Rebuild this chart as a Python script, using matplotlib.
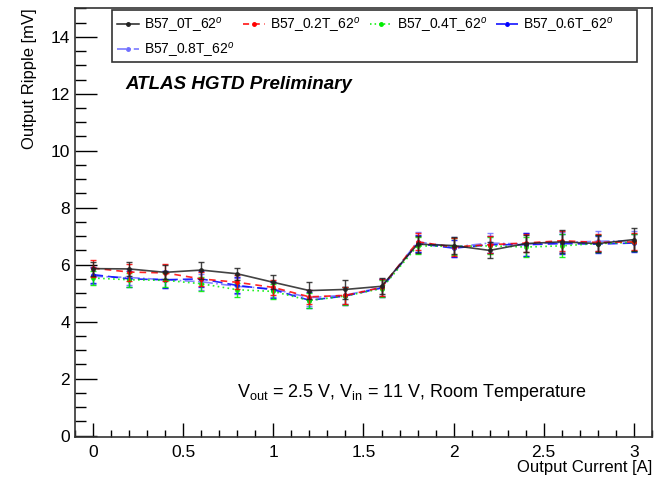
import matplotlib
matplotlib.use("Agg")
import matplotlib.pyplot as plt
from matplotlib.ticker import MultipleLocator
from matplotlib.lines import Line2D
from matplotlib.patches import Rectangle
import numpy as np

plt.rcParams['font.family'] = ['Liberation Sans', 'DejaVu Sans']
plt.rcParams['mathtext.fontset'] = 'custom'
plt.rcParams['mathtext.rm'] = 'Liberation Sans'
plt.rcParams['mathtext.it'] = 'Liberation Sans:italic'

current = [0.0, 0.2, 0.4, 0.6, 0.8, 1.0, 1.2, 1.4, 1.6, 1.8, 2.0, 2.2, 2.4, 2.6, 2.8, 3.0]

labels = ["B57_0T_62$^{o}$", "B57_0.2T_62$^{o}$", "B57_0.4T_62$^{o}$",
          "B57_0.6T_62$^{o}$", "B57_0.8T_62$^{o}$"]

ripple_0T = [5.86, 5.85, 5.73, 5.81, 5.68, 5.38, 5.09, 5.13, 5.24, 6.72, 6.67, 6.50, 6.74, 6.80, 6.74, 6.88]
ripple_02T = [5.88, 5.74, 5.71, 5.50, 5.38, 5.20, 4.87, 4.92, 5.20, 6.80, 6.62, 6.70, 6.76, 6.84, 6.78, 6.80]
ripple_04T = [5.53, 5.47, 5.45, 5.33, 5.12, 5.06, 4.74, 4.90, 5.16, 6.66, 6.64, 6.66, 6.62, 6.66, 6.74, 6.78]
ripple_06T = [5.65, 5.50, 5.47, 5.50, 5.27, 5.12, 4.75, 4.90, 5.18, 6.74, 6.58, 6.70, 6.70, 6.74, 6.72, 6.76]
ripple_08T = [5.59, 5.55, 5.47, 5.40, 5.24, 5.15, 4.84, 4.93, 5.20, 6.80, 6.62, 6.76, 6.72, 6.78, 6.82, 6.84]

err_0T = [0.25, 0.25, 0.25, 0.30, 0.22, 0.25, 0.30, 0.32, 0.28, 0.30, 0.30, 0.28, 0.30, 0.40, 0.30, 0.40]
err_02T = [0.30, 0.30, 0.30, 0.25, 0.25, 0.25, 0.25, 0.30, 0.30, 0.30, 0.30, 0.30, 0.30, 0.35, 0.30, 0.30]
err_04T = [0.25, 0.25, 0.25, 0.25, 0.25, 0.25, 0.25, 0.30, 0.30, 0.30, 0.30, 0.30, 0.35, 0.40, 0.30, 0.30]
err_06T = [0.28, 0.28, 0.30, 0.28, 0.28, 0.28, 0.28, 0.30, 0.30, 0.30, 0.30, 0.30, 0.40, 0.35, 0.30, 0.30]
err_08T = [0.28, 0.28, 0.30, 0.28, 0.28, 0.28, 0.28, 0.30, 0.30, 0.35, 0.35, 0.35, 0.40, 0.35, 0.35, 0.35]

series = [ripple_0T, ripple_02T, ripple_04T, ripple_06T, ripple_08T]
errors = [err_0T, err_02T, err_04T, err_06T, err_08T]
colors = ['#222222', '#ff0000', '#00ee00', '#0000ff', '#6f6fff']
styles = ['-', (0, (4, 3)), (0, (1, 2)), (0, (6, 3)), (0, (6, 2, 1, 2))]
zorders = [6, 5, 4, 3, 2]

fig = plt.figure(figsize=(6.7, 4.79), dpi=100)
ax = fig.add_axes([0.112, 0.0877, 0.861, 0.895])

handles = []
for y, e, c, ls, lab, z in zip(series, errors, colors, styles, labels, zorders):
    ax.errorbar(current, y, yerr=e, color=c, ls=ls, lw=1.2, marker='o', ms=2.5,
                capsize=2, elinewidth=1, capthick=1, alpha=0.85,
                zorder=z)
    handles.append(Line2D([], [], color=c, ls=ls, lw=1.1, marker='o', ms=2.5))

ax.set_xlim(-0.1, 3.1)
ax.set_ylim(-0.05, 15)
ax.xaxis.set_major_locator(MultipleLocator(0.5))
ax.xaxis.set_minor_locator(MultipleLocator(0.1))
ax.yaxis.set_major_locator(MultipleLocator(2))
ax.yaxis.set_minor_locator(MultipleLocator(0.5))
ax.set_xticks([0, 0.5, 1, 1.5, 2, 2.5, 3])
ax.set_xticklabels(['0', '0.5', '1', '1.5', '2', '2.5', '3'])
ax.set_yticks([0, 2, 4, 6, 8, 10, 12, 14])
ax.tick_params(which='major', direction='in', labelsize=12.5)
ax.tick_params(axis='y', which='major', length=16, width=1)
ax.tick_params(axis='y', which='minor', direction='in', length=8, width=1)
ax.tick_params(axis='x', which='major', length=10, width=1, pad=6)
ax.tick_params(axis='x', which='minor', direction='in', length=5, width=1)
for s in ax.spines.values():
    s.set_linewidth(1.2)
    s.set_color('#333333')

ax.set_ylabel('Output Ripple [mV]', fontsize=12, loc='top', labelpad=10)
ax.set_xlabel('Output Current [A]', fontsize=12, loc='right', labelpad=0)

# legend frame drawn separately so the box spans the same width as in ROOT
frame = Rectangle((0.064, 0.874), 0.91, 0.121, transform=ax.transAxes,
                  facecolor='white', edgecolor='#333333', lw=1.2, zorder=9)
ax.add_patch(frame)

# row-major ordering for a 4-column legend with 5 entries
order = [0, 4, 1, 2, 3]
leg = ax.legend(handles=[handles[i] for i in order], labels=[labels[i] for i in order],
                ncol=4, loc='upper left',
                bbox_to_anchor=(0.064, 0.995), fontsize=10, frameon=False,
                handlelength=1.6, handletextpad=0.35, borderpad=0.35,
                borderaxespad=0, labelspacing=0.45, columnspacing=0.65)
leg.set_zorder(10)

ax.text(0.088, 0.823, 'ATLAS HGTD Preliminary', transform=ax.transAxes,
        fontsize=13.5, fontweight='bold', style='italic', va='center', ha='left')
ax.text(0.281, 0.103, r'V$_{\mathrm{out}}$ = 2.5 V, V$_{\mathrm{in}}$ = 11 V, Room Temperature',
        transform=ax.transAxes, fontsize=13, va='center', ha='left')

fig.savefig('out.png', dpi=100)
